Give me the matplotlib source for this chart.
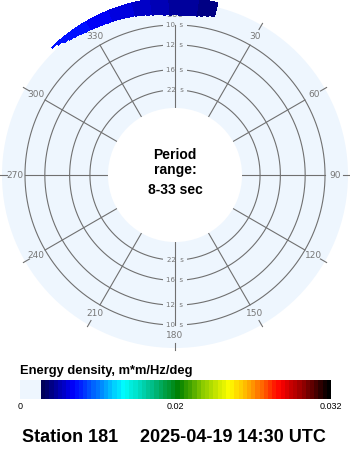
import numpy as np
import matplotlib
matplotlib.use('Agg')
import matplotlib.pyplot as plt
from matplotlib.colors import LinearSegmentedColormap, ListedColormap, PowerNorm
from matplotlib.cm import ScalarMappable

# ---- data ----
# direction bins (deg, compass, clockwise from north), 2 deg wide
dir_centers = [-43, -41, -39, -37, -35, -33, -31, -29, -27, -25, -23, -21, -19, -17,
               -15, -13, -11, -9, -7, -5, -3, -1, 1, 3, 5, 7, 9, 11, 13]
# lowest frequency (Hz) with energy in each direction bin
f_low = [0.1220, 0.1205, 0.1188, 0.1176, 0.1168, 0.1159, 0.1154, 0.1148, 0.1143,
         0.1139, 0.1134, 0.1131, 0.1128, 0.1124, 0.1120, 0.1113, 0.1107, 0.1101, 0.1096,
         0.1091, 0.1086, 0.1084, 0.1084, 0.1084, 0.1086, 0.1087, 0.1092, 0.1101, 0.1109]
f_high = 0.1230
# energy density per direction bin, m*m/Hz/deg
energy = [0.0099, 0.0100, 0.0101, 0.0101, 0.0101, 0.0100, 0.0099, 0.0098, 0.0097,
          0.0096, 0.0095, 0.0093, 0.0092, 0.0090, 0.0089, 0.0087, 0.0085, 0.0083, 0.0081,
          0.0079, 0.0077, 0.0076, 0.0074, 0.0073, 0.0072, 0.0071, 0.0070, 0.0070, 0.0069]
ring_periods = [10, 12, 16, 22]
angles = [0, 30, 60, 90, 120, 150, 180, 210, 240, 270, 300, 330]
angle_labels = ['360', '30', '60', '90', '120', '150', '180', '210', '240', '270', '300', '330']
period_min, period_max = 8, 33
cbar_ticks = [0, 0.02, 0.032]
cbar_ticklabels = ['0', '0.02', '0.032']
cbar_title = 'Energy density, m*m/Hz/deg'
station = 'Station 181'
stamp = '2025-04-19 14:30 UTC'

# ---- style ----
bg = '#eef6fe'
grid_c = '#707070'
lab_c = '#777777'
f_in = 1.0 / period_max
f_out = 0.1193
f_origin = -0.026

# colormap: light blue, navy -> blue -> cyan -> green -> yellow -> red -> black
nodes = [(0.0675, (0, 0, 0.35)), (0.167, (0, 0, 1)), (0.25, (0, 0.5, 1)),
         (0.33, (0, 1, 1)), (0.42, (0, 0.75, 0.55)), (0.51, (0, 0.5, 0)),
         (0.59, (0.55, 0.8, 0)), (0.675, (1, 1, 0)), (0.76, (1, 0.55, 0)),
         (0.84, (1, 0, 0)), (0.92, (0.55, 0, 0)), (1.0, (0, 0, 0))]
ramp = LinearSegmentedColormap.from_list(
    'ramp', [((p - 0.0675) / (1 - 0.0675), c) for p, c in nodes])
cmap = ListedColormap([bg] * 5 + list(ramp(np.linspace(0, 1, 69))))
norm = PowerNorm(gamma=1.475, vmin=0, vmax=0.032)

fig = plt.figure(figsize=(3.5, 4.5), dpi=100)
fig.patch.set_facecolor('white')

ax = fig.add_axes([2 / 350, 102 / 450, 346 / 350, 346 / 450], projection='polar')
ax.set_theta_zero_location('N')
ax.set_theta_direction(-1)
ax.set_rorigin(f_origin)
ax.set_rlim(f_in, f_out)
ax.set_facecolor(bg)
ax.patch.set_edgecolor('none')
ax.set_xticks([])
ax.set_yticks([])
ax.grid(False)
for sp in ax.spines.values():
    sp.set_edgecolor('none')   # polar draw() turns the inner spine back on
    sp.set_linewidth(0)

# rings + labels
th = np.linspace(0, 2 * np.pi, 721)
for p in ring_periods:
    f = 1.0 / p
    ax.plot(th, np.full_like(th, f), color=grid_c, lw=0.8, zorder=2)
    for t in (0, np.pi):
        ax.text(t, f, '%d  s' % p, fontsize=5, color=lab_c, ha='center', va='center',
                zorder=3, bbox=dict(facecolor=bg, edgecolor='none', pad=2.5))

# radial lines, labels, outer ticks
for a, lab in zip(angles, angle_labels):
    t = np.deg2rad(a)
    ax.plot([t, t], [f_in, 0.1], color=grid_c, lw=0.8, zorder=4)
    ax.text(t, 0.1085, lab, fontsize=6.5, color=lab_c, ha='center', va='center', zorder=3)
    ax.plot([t, t], [0.1151, 0.1210], color=grid_c, lw=0.8, zorder=3, clip_on=False)

# spectrum
bars = ax.bar(np.deg2rad(dir_centers), [f_high - f for f in f_low], bottom=f_low,
              width=np.deg2rad(2), color=cmap(norm(energy)), edgecolor='none',
              linewidth=0, zorder=5)
for b in bars:
    b.set_clip_on(False)
    b.set_antialiased(False)

# centre text
fig.text(0.5, (450 - 155) / 450, 'Period', ha='center', va='center',
         fontsize=10, fontweight='bold', family='Liberation Sans')
fig.text(0.5, (450 - 170) / 450, 'range:', ha='center', va='center',
         fontsize=10, fontweight='bold', family='Liberation Sans')
fig.text(0.5, (450 - 190) / 450, '%d-%d sec' % (period_min, period_max), ha='center',
         va='center', fontsize=10, fontweight='bold', family='Liberation Sans')

# colorbar
cax = fig.add_axes([20 / 350, 51 / 450, 311 / 350, 19 / 450])
cb = fig.colorbar(ScalarMappable(norm=norm, cmap=cmap), cax=cax, orientation='horizontal')
cb.set_ticks(cbar_ticks, labels=cbar_ticklabels)
cb.outline.set_visible(False)
cax.tick_params(length=0, pad=2, labelsize=6.5)
for tl in cax.get_xticklabels():
    tl.set_family('Liberation Sans')
fig.text(20 / 350, (450 - 371) / 450, cbar_title, ha='left', va='center',
         fontsize=9.3, fontweight='bold', family='Liberation Sans')

fig.text(22 / 350, (450 - 438) / 450, station, ha='left', va='center',
         fontsize=13, fontweight='bold', family='Liberation Sans')
fig.text(140 / 350, (450 - 438) / 450, stamp, ha='left', va='center',
         fontsize=13, fontweight='bold', family='Liberation Sans')

fig.savefig('out.png', dpi=100, facecolor='white')
